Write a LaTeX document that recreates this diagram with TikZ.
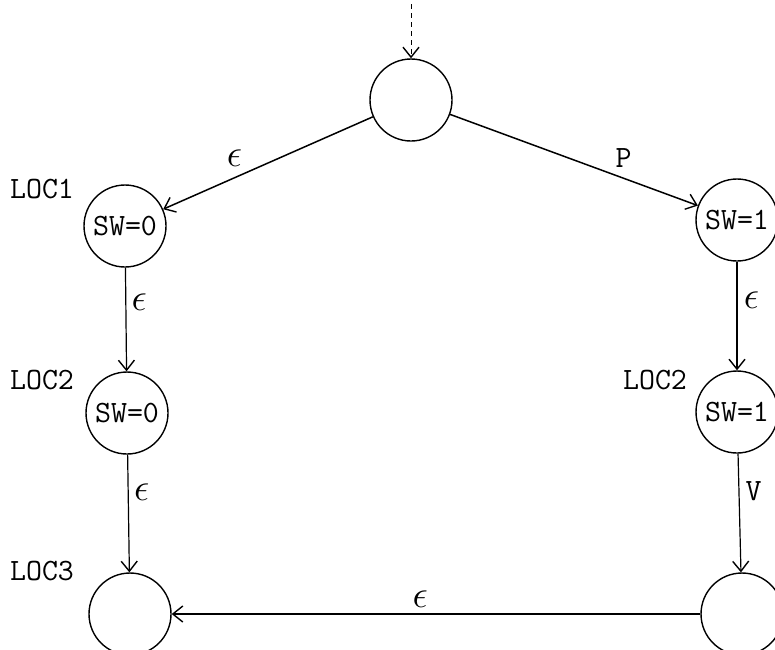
\documentclass[tikz,border=0pt]{standalone}
\usetikzlibrary{arrows.meta}
\begin{document}
\begin{tikzpicture}[x=1pt,y=-1pt,
  state/.style={draw,circle,line width=1.4pt,minimum size=82pt,inner sep=0pt,
    font=\fontsize{31}{33}\selectfont\ttfamily},
  loclabel/.style={font=\fontsize{31}{33}\selectfont\ttfamily,inner sep=0pt},
  edgelabel/.style={font=\fontsize{31}{33}\selectfont\ttfamily,inner sep=0pt},
  eps/.style={font=\fontsize{24}{26}\selectfont,inner sep=0pt,scale=1.55},
  tip/.style={-{Straight Barb[length=10pt,width=16pt,line width=1.4pt]}},
  trans/.style={line width=1.5pt,tip},
  vtrans/.style={line width=1.2pt,tip}]
\useasboundingbox (0,0) rectangle (775,649);

% states
\node[state] (s0) at (411,100) {};
\node[state] (a1) at (125,226) {SW=0};
\node[state] (a2) at (127,413) {SW=0};
\node[state] (a3) at (130,614) {};
\node[state] (b1) at (737,220) {SW=1};
\node[state] (b2) at (737,412) {SW=1};
\node[state] (b3) at (742,614) {};

% location names
\node[loclabel] (l1) at (42,189) {LOC1};
\node[loclabel] (l2) at (42,380) {LOC2};
\node[loclabel] (l3) at (42,571) {LOC3};
\node[loclabel] (r2) at (655,380) {LOC2};

% initial marker
\coordinate (init) at (411,4);
\draw[line width=1pt,dash pattern=on 5pt off 4pt,tip] (init) -- (s0);

% transitions
\draw[trans] (s0) -- node[pos=0.66,above=10pt,eps] {$\epsilon$} (a1);
\draw[trans] (s0) -- node[pos=0.70,above=10pt,edgelabel] {P} (b1);
\draw[vtrans] (a1) -- node[pos=0.33,right=5pt,eps] {$\epsilon$} (a2);
\draw[vtrans] (a2) -- node[pos=0.32,right=5pt,eps] {$\epsilon$} (a3);
\draw[vtrans] (b1) -- node[pos=0.35,right=6pt,eps] {$\epsilon$} (b2);
\draw[vtrans] (b2) -- node[pos=0.32,right=6pt,edgelabel] {V} (b3);
\draw[vtrans] (b3) -- node[pos=0.53,above=6pt,eps] {$\epsilon$} (a3);
\end{tikzpicture}
\end{document}
